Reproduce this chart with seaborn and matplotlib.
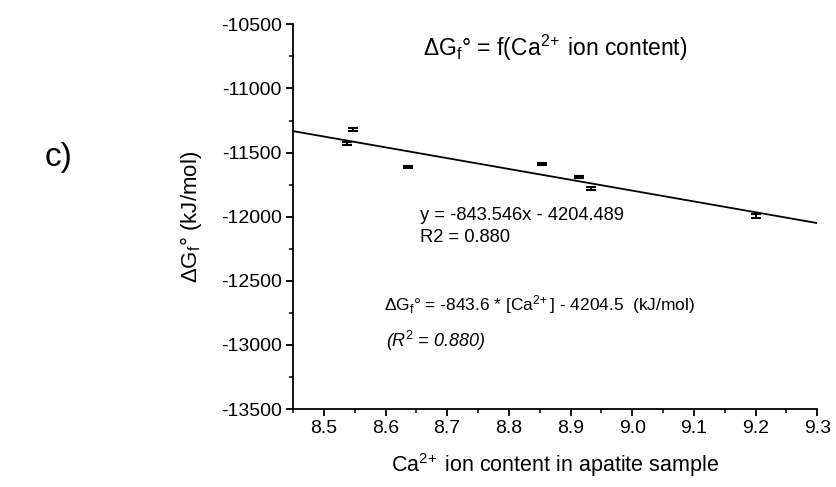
import matplotlib
matplotlib.use("Agg")
import matplotlib.pyplot as plt
import numpy as np
import pandas as pd
import seaborn as sns
from matplotlib.ticker import MultipleLocator, FormatStrFormatter

# Ca2+ content vs Gibbs free energy of formation (kJ/mol)
ca_content = [8.538, 8.548, 8.637, 8.854, 8.913, 8.933, 9.200]
dg_values = [-11430, -11321, -11612, -11589, -11692, -11780, -11991]
dg_err = [14, 12, 10, 10, 10, 10, 16]

# linear fit coefficients as printed on the chart
slope = -843.546
intercept = -4204.489
fit_x = [8.45, 9.3]

df = pd.DataFrame({"ca": ca_content, "dg": dg_values, "err": dg_err})
fit_df = pd.DataFrame({"x": fit_x, "y": [slope * v + intercept for v in fit_x]})

sns.set_style("ticks")
plt.rcParams["font.family"] = ["Liberation Sans", "DejaVu Sans"]
plt.rcParams["mathtext.fontset"] = "custom"
plt.rcParams["mathtext.rm"] = "Liberation Sans"
plt.rcParams["mathtext.it"] = "Liberation Sans:italic"
plt.rcParams["axes.unicode_minus"] = False
plt.rcParams["text.color"] = "black"
plt.rcParams["axes.labelcolor"] = "black"

fig = plt.figure(figsize=(8.36, 4.87), dpi=100)
ax = fig.add_axes([0.3505, 0.160, 0.627, 0.790])

# regression line
sns.lineplot(data=fit_df, x="x", y="y", color="black", linewidth=1.3, ax=ax)

# data points with error bars, no marker
ax.errorbar(df["ca"], df["dg"], yerr=df["err"], fmt="none", ecolor="black",
            elinewidth=1.5, capsize=3.5, capthick=1.5)

ax.set_xlim(8.45, 9.3)
ax.set_ylim(-13500, -10500)
ax.xaxis.set_major_locator(MultipleLocator(0.1))
ax.xaxis.set_minor_locator(MultipleLocator(0.05))
ax.yaxis.set_major_locator(MultipleLocator(500))
ax.yaxis.set_minor_locator(MultipleLocator(250))
ax.tick_params(which="major", direction="out", length=5, width=1.3, labelsize=14,
               colors="black", pad=3)
ax.tick_params(which="minor", direction="out", length=3, width=1.3)
ax.xaxis.set_major_formatter(FormatStrFormatter("%.1f"))
for s in ["left", "bottom"]:
    ax.spines[s].set_linewidth(1.3)
    ax.spines[s].set_color("black")
sns.despine(ax=ax)

sup = r"$^{\mathrm{2\!+}}$"
sup_sp = r"$^{\mathrm{2\!+}}\;$"
ax.set_xlabel("Ca" + sup_sp + "ion content in apatite sample", fontsize=15.5, labelpad=10)
ax.set_ylabel(r"ΔG$_{\mathrm{f}}$° (kJ/mol)", fontsize=16, labelpad=12)

W, H = 836, 487
fig.text(555 / W, 1 - 48 / H, r"ΔG$_{\mathrm{f}}$° = f(Ca" + sup_sp + "ion content)", fontsize=16.5,
         ha="center", va="center")
fig.text(59 / W, 1 - 157 / H, "c)", fontsize=24, ha="center", va="center")
fig.text(420 / W, 1 - 216 / H, "y = -843.546x - 4204.489", fontsize=13.2, ha="left", va="center")
fig.text(420 / W, 1 - 238 / H, "R2 = 0.880", fontsize=13.2, ha="left", va="center")
fig.text(384 / W, 1 - 305 / H, r"ΔG$_{\mathrm{f}}$° = -843.6 * [Ca" + sup + "] - 4204.5  (kJ/mol)",
         fontsize=12.5, ha="left", va="center")
fig.text(386 / W, 1 - 341 / H, "(R$^{2}$ = 0.880)", fontsize=13, style="italic",
         ha="left", va="center")

fig.savefig("out.png", dpi=100)
